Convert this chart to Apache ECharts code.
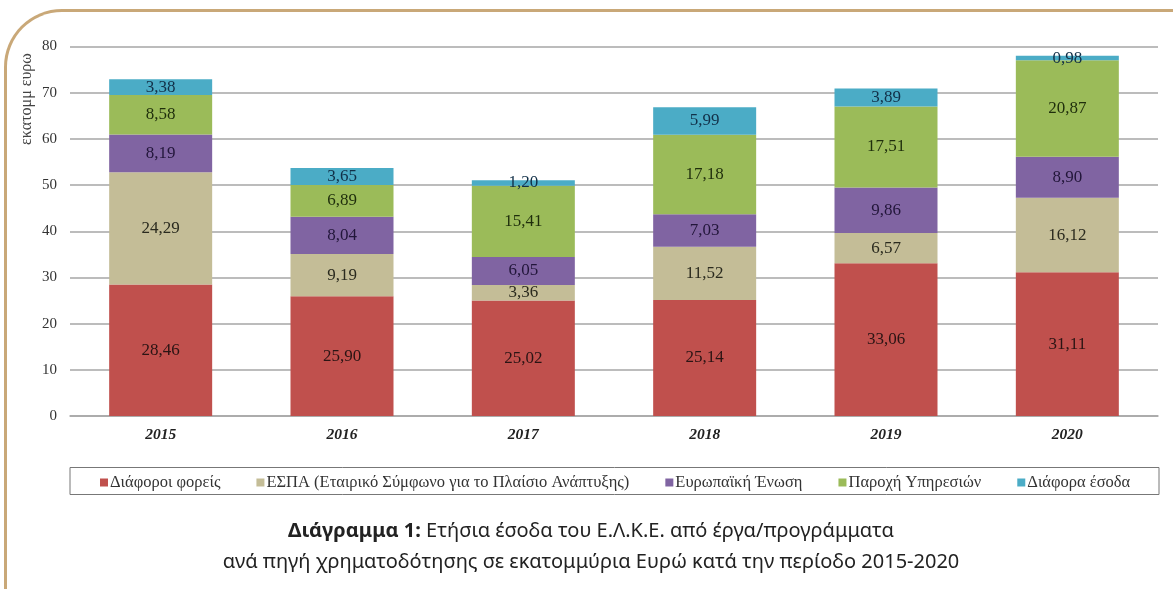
<!DOCTYPE html>
<html>
<head>
<meta charset="utf-8">
<script src="https://cdn.jsdelivr.net/npm/echarts@6/dist/echarts.min.js"></script>
<style>
  html, body { margin: 0; padding: 0; background: #fff; }
  #frame {
    position: absolute; left: 4px; top: 9px; width: 1200px; height: 620px;
    border-top: 3px solid #c9a878; border-left: 3px solid #c9a878;
    border-top-left-radius: 58px; box-sizing: border-box;
  }
  #chart { position: absolute; left: 0; top: 0; width: 1173px; height: 589px; }
</style>
</head>
<body>
<div id="frame"></div>
<div id="chart"></div>
<script>
const years = ["2015", "2016", "2017", "2018", "2019", "2020"];
const foreis = [28.46, 25.90, 25.02, 25.14, 33.06, 31.11];
const espa = [24.29, 9.19, 3.36, 11.52, 6.57, 16.12];
const eu = [8.19, 8.04, 6.05, 7.03, 9.86, 8.90];
const services = [8.58, 6.89, 15.41, 17.18, 17.51, 20.87];
const other = [3.38, 3.65, 1.20, 5.99, 3.89, 0.98];
const yTicks = [0, 10, 20, 30, 40, 50, 60, 70, 80];

const chartInstance = echarts.init(document.getElementById("chart"));

const serif = "Liberation Serif";
const fmt = (p) => p.value.toFixed(2).replace(".", ",");

function bar(name, data, color, labelColor) {
  return {
    name: name,
    type: "bar",
    stack: "total",
    data: data,
    barWidth: 103,
    itemStyle: { color: color },
    label: {
      show: true,
      position: "inside",
      formatter: fmt,
      color: labelColor,
      fontFamily: serif,
      fontSize: 17,
    },
  };
}

var option = {
  animation: false,
  title: {
    text: "{b|Διάγραμμα 1:} Ετήσια έσοδα του Ε.Λ.Κ.Ε. από έργα/προγράμματα\nανά πηγή χρηματοδότησης σε εκατομμύρια Ευρώ κατά την περίοδο 2015-2020",
    left: 586,
    top: 511,
    textAlign: "center",
    textStyle: {
      fontFamily: "Noto Sans",
      fontSize: 20,
      fontWeight: "normal",
      color: "#222",
      lineHeight: 31,
      rich: {
        b: { fontFamily: "Noto Sans", fontSize: 20, fontWeight: "bold", color: "#222", lineHeight: 31 },
      },
    },
  },
  legend: {
    data: ["Διάφοροι φορείς", "ΕΣΠΑ (Εταιρικό Σύμφωνο για το Πλαίσιο Ανάπτυξης)", "Ευρωπαϊκή Ένωση", "Παροχή Υπηρεσιών", "Διάφορα έσοδα"],
    left: 95,
    top: 469,
    icon: "rect",
    itemWidth: 8,
    itemHeight: 8,
    itemGap: 36,
    textStyle: { fontFamily: serif, fontSize: 16.5, color: "#333", padding: [0, 0, 0, -3] },
  },
  graphic: [
    {
      type: "rect",
      shape: { x: 70, y: 467.5, width: 1089, height: 27 },
      style: { fill: "none", stroke: "#777", lineWidth: 1 },
      silent: true,
    },
    {
      type: "text",
      x: 27,
      y: 99,
      rotation: Math.PI / 2,
      style: {
        text: "εκατομμ ευρω",
        fontFamily: serif,
        fontSize: 16,
        fill: "#444",
        align: "center",
        verticalAlign: "middle",
      },
      silent: true,
    },
  ],
  grid: { left: 70, right: 15, top: 46.5, bottom: 173, outerBoundsMode: "none" },
  xAxis: [
    {
      type: "category",
      data: years,
      axisLine: { lineStyle: { color: "#a6a6a6", width: 1.5 } },
      axisTick: { show: false },
      axisLabel: {
        fontFamily: serif,
        fontStyle: "italic",
        fontWeight: "bold",
        fontSize: 15.5,
        color: "#222",
        margin: 11,
      },
    },
  ],
  yAxis: [
    {
      type: "value",
      min: yTicks[0],
      max: yTicks[yTicks.length - 1],
      interval: 10,
      axisLine: { show: false },
      axisTick: { show: false },
      splitLine: { lineStyle: { color: "#a6a6a6", width: 1.5 } },
      axisLabel: { fontFamily: serif, fontSize: 15, color: "#333", margin: 13 },
    },
  ],
  series: [
    bar("Διάφοροι φορείς", foreis, "#c0504d", "#2a1414"),
    bar("ΕΣΠΑ (Εταιρικό Σύμφωνο για το Πλαίσιο Ανάπτυξης)", espa, "#c4bd97", "#2a2a1e"),
    bar("Ευρωπαϊκή Ένωση", eu, "#8064a2", "#22163a"),
    bar("Παροχή Υπηρεσιών", services, "#9bbb59", "#1f2e0c"),
    bar("Διάφορα έσοδα", other, "#4bacc6", "#123048"),
  ],
};
chartInstance.setOption(option);
</script>
</body>
</html>
